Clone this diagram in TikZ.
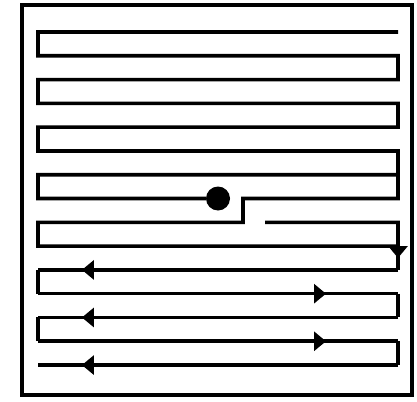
\documentclass[tikz,border=0pt]{standalone}
\usetikzlibrary{arrows.meta, decorations.markings}

\begin{document}
\begin{tikzpicture}[
        x=1pt, y=-1pt,
        wire/.style={line width=3.6pt, line join=miter},
        frame/.style={line width=4.5pt},
        hole/.style={circle, fill, inner sep=0pt, minimum size=24pt},
        flow/.style={postaction={decorate}, decoration={markings,
                     mark=at position #1 with {\arrow{Triangle[length=12pt,width=19pt]}}}}
    ]
        \useasboundingbox (0,0) rectangle (417,401);
        \draw[frame] (22,5) rectangle (412,395);

        % rows of the snake
        \foreach \i in {1,...,15} {
            \coordinate (L\i) at (38,{32+23.79*(\i-1)});
            \coordinate (R\i) at (398,{32+23.79*(\i-1)});
        }
        \node[hole] (hole) at (218,198.5) {};
        \coordinate (jogT) at (243,198.5);
        \coordinate (jogB) at (243,222.3);
        \coordinate (gapR) at (265,222.3);

        % upper run, ends at the hole
        \draw[wire] (R1) -- (L1) -- (L2) -- (R2) -- (R3) -- (L3) -- (L4) -- (R4)
            -- (R5) -- (L5) -- (L6) -- (R6) -- (R7) -- (L7) -- (L8) -- (hole);

        % lower run
        \draw[wire] (R7) -- (R8) -- (jogT) -- (jogB) -- (L9) -- (L10) -- (R10);
        \draw[wire] (gapR) -- (R9) -- (R10);
        \draw[wire, flow=0.5] (R10) -- (R11);
        \draw[wire, flow=0.878] (R11) -- (L11);
        \draw[wire] (L11) -- (L12);
        \draw[wire, flow=0.80] (L12) -- (R12);
        \draw[wire] (R12) -- (R13);
        \draw[wire, flow=0.878] (R13) -- (L13);
        \draw[wire] (L13) -- (L14);
        \draw[wire, flow=0.80] (L14) -- (R14);
        \draw[wire] (R14) -- (R15);
        \draw[wire, flow=0.878] (R15) -- (L15);
    \end{tikzpicture}
\end{document}
